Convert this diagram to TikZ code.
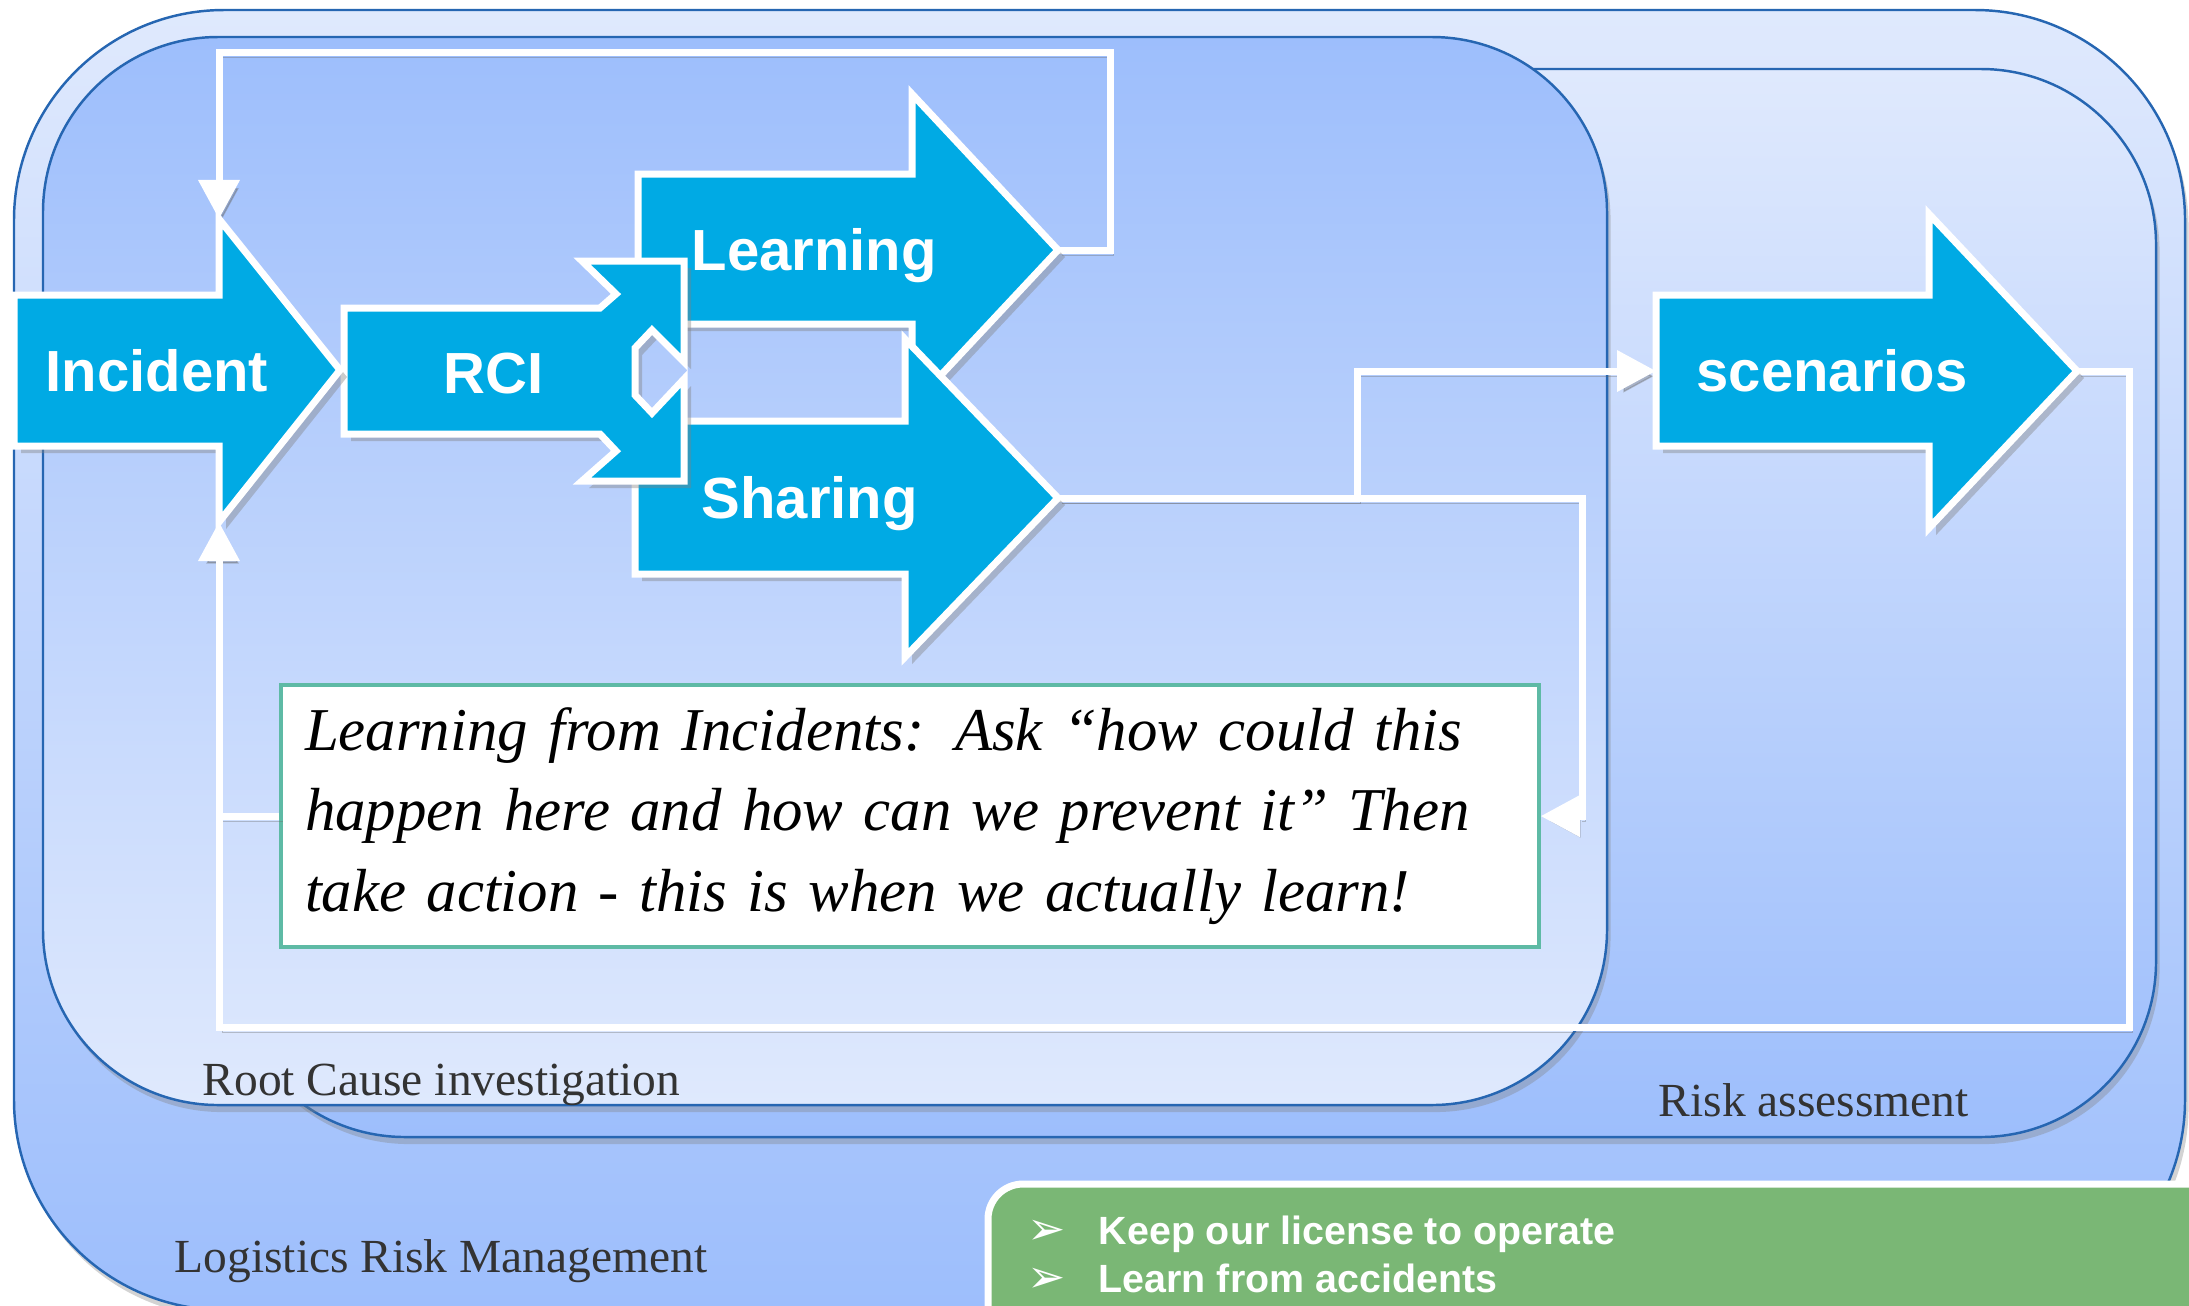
\documentclass[tikz,border=0pt]{standalone}
\usepackage{fontspec}
\setmainfont{Liberation Serif}
\newfontfamily\arrowfont{Liberation Sans}
\newfontfamily\symfont{DejaVu Sans}
\usetikzlibrary{arrows.meta,shadows}
\definecolor{arrowblue}{RGB}{0,170,228}
\definecolor{boxline}{RGB}{38,102,178}
\definecolor{paleblue}{RGB}{223,233,253}
\definecolor{midblue}{RGB}{157,190,252}
\definecolor{goalgreen}{RGB}{122,183,117}
\definecolor{lessonline}{RGB}{94,186,165}
\newcommand\goalmark{\makebox[0.71cm][l]{\symfont\mdseries\fontsize{13}{13}\selectfont ➢}}

\begin{document}
\begin{tikzpicture}[x=0.01cm,y=-0.01cm,
  zonebox/.style={draw=boxline,line width=0.7pt,rounded corners=1.75cm,drop shadow={opacity=0.35,shadow xshift=1pt,shadow yshift=-2pt}},
  blockarrow/.style={fill=arrowblue,draw=white,line width=0.07cm,drop shadow={opacity=0.4,shadow xshift=2pt,shadow yshift=-2pt}},
  arrowtext/.style={text=white,font=\arrowfont\bfseries\fontsize{16.5}{20}\selectfont,inner sep=0pt,anchor=base west},
  zonelabel/.style={text=black!80,font=\fontsize{13.5}{16}\selectfont,inner sep=0pt,anchor=base west},
  goaltext/.style={text=white,font=\arrowfont\bfseries\fontsize{11.2}{13}\selectfont,inner sep=0pt,anchor=base west},
  link/.style={draw=white,line width=0.07cm,preaction={draw=black!60,opacity=0.35,transform canvas={shift={(1pt,-1.5pt)}}}},
  linkarrow/.style={-{Triangle[length=3.9mm,width=4mm]}}]
\useasboundingbox (0,0) rectangle (2189,1305);

\draw[zonebox,rounded corners=2.1cm,top color=paleblue,bottom color=midblue] (14,10) rectangle (2185,1310);
\draw[zonebox,top color=paleblue,bottom color=midblue] (230,69) rectangle (2156,1137);
\draw[zonebox,top color=midblue,bottom color=paleblue] (43,37) rectangle (1607,1105);

\node[zonelabel] (rootlabel) at (202,1095) {Root Cause investigation};
\node[zonelabel] (risklabel) at (1658,1116) {Risk assessment};
\node[zonelabel] (logisticslabel) at (174,1272) {Logistics Risk Management};

\draw[fill=goalgreen,draw=white,line width=0.07cm,rounded corners=0.35cm] (988,1184) rectangle (2260,1380);
\node[goaltext] (goal1) at (1027,1244) {\goalmark Keep our license to operate};
\node[goaltext] (goal2) at (1027,1292) {\goalmark Learn from accidents};

\node[draw=lessonline,fill=white,line width=0.04cm,anchor=north west,minimum width=12.57cm,minimum height=2.62cm,text width=12.09cm,inner xsep=0.24cm,align=left,font=\itshape\fontsize{17.3}{22.9}\selectfont] (lesson) at (279,683)
{Learning from Incidents: Ask “how could this\\ happen here and how can we prevent it” Then\\ take action - this is when we actually learn!};

\coordinate (inctop) at (219,219);
\coordinate (incbot) at (219,522);
\coordinate (learntip) at (1058,250);
\coordinate (sharetip) at (1058,498);
\coordinate (scentip) at (2077,371);
\coordinate (scenback) at (1656,371);

\draw[link,linkarrow] (learntip) -| (1110,52) -| (inctop);
\draw[link,linkarrow] (sharetip) -| (1357,371) -- (scenback);
\draw[link,linkarrow] (sharetip) -- (1582,498) |- (lesson.east);
\draw[link,linkarrow] (scentip) -| (2129,1027) -| (incbot);
\draw[link] (lesson.west) -- (lesson.west -| incbot);

\draw[blockarrow] (638,174) -- (912,174) -- (912,94) -- (learntip) -- (912,406) -- (912,324) -- (638,324) -- cycle;
\node[arrowtext] (learning) at (691,270) {Learning};
\draw[blockarrow] (635,421) -- (905,421) -- (905,339) -- (sharetip) -- (905,657) -- (905,574) -- (635,574) -- cycle;
\node[arrowtext] (sharing) at (701,518) {Sharing};
\draw[blockarrow] (344,308) -- (600,308) -- (616,294) -- (582,261) -- (684,261) -- (684,362) -- (652,330) -- (635,348) -- (635,395) -- (652,413) -- (684,379) -- (684,481) -- (582,481) -- (616,451) -- (600,434) -- (344,434) -- cycle;
\node[arrowtext] (rci) at (443,393) {RCI};
\draw[blockarrow] (14,295) -- (inctop |- 0,295) -- (inctop) -- (340,370) -- (incbot) -- (219,446) -- (14,446) -- cycle;
\node[arrowtext] (incident) at (45,391) {Incident};
\draw[blockarrow] (scenback |- 0,295) -- (1929,295) -- (1929,214) -- (scentip) -- (1929,528) -- (1929,446) -- (1656,446) -- cycle;
\node[arrowtext] (scenarios) at (1696,391) {scenarios};
\end{tikzpicture}
\end{document}
